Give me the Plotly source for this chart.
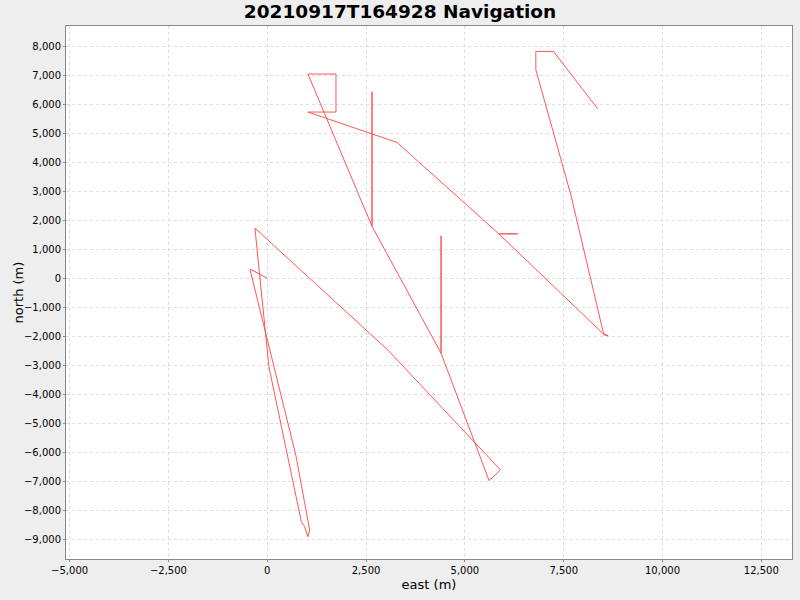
import plotly.graph_objects as go

east = [0, -438, 727, 1073, 1030, 947, 863, 43, -311, 3048, 5901, 5613, 4397, 4397, 4397,
        2651, 2651, 2651, 1030, 1739, 1739, 1030, 3284, 5858, 6339, 5858, 8484, 8625, 8516,
        7681, 6795, 6795, 7243, 8357]
north = [0, 310, -6128, -8679, -8910, -8566, -8393, -3059, 1724, -2472, -6610, -6979, -2586, 1459, -2586,
         1786, 6424, 1786, 7034, 7034, 5724, 5724, 4676, 1528, 1528, 1528, -1897, -1990, -1955,
         2872, 7183, 7814, 7814, 5838]

title_text = "20210917T164928 Navigation"
x_label = "east (m)"
y_label = "north (m)"

fig = go.Figure()
fig.add_trace(go.Scatter(x=east, y=north, mode="lines",
                         line=dict(color="#FF5555", width=1), showlegend=False))

font_family = "DejaVu Sans"
fig.update_layout(
    width=800, height=600,
    paper_bgcolor="#EEEEEE", plot_bgcolor="white",
    margin=dict(l=66, r=8, t=26, b=41),
    title=dict(text="<b>" + title_text + "</b>", x=0.5, xanchor="center", y=0.98, yanchor="middle",
               font=dict(family=font_family, size=18.5, color="black")),
    font=dict(family=font_family, size=11, color="black"),
)
fig.add_annotation(text=y_label, xref="paper", yref="paper", x=0, y=0.5,
                   xanchor="center", yanchor="middle", xshift=-48, textangle=-90,
                   showarrow=False, font=dict(family=font_family, size=13, color="black"))
fig.update_xaxes(
    range=[-5091, 13276], dtick=2500, tick0=0, tickformat=",",
    showgrid=True, gridcolor="#DDDDDD", griddash="3px,3px", gridwidth=1,
    zeroline=False, showline=True, linecolor="#888888", mirror=True,
    ticks="outside", ticklen=2, tickcolor="#888888",
    title=dict(text=x_label, font=dict(size=13), standoff=4),
    tickfont=dict(size=10),
)
fig.update_yaxes(
    range=[-9680, 8690], dtick=1000, tick0=0, tickformat=",",
    showgrid=True, gridcolor="#DDDDDD", griddash="3px,3px", gridwidth=1,
    zeroline=False, showline=True, linecolor="#888888", mirror=True,
    ticks="outside", ticklen=2, tickcolor="#888888",
    tickfont=dict(size=10),
)
fig.write_html("out.html", config={"displayModeBar": False},
               post_script="document.body.style.margin='0';document.body.style.background='#EEEEEE';")
